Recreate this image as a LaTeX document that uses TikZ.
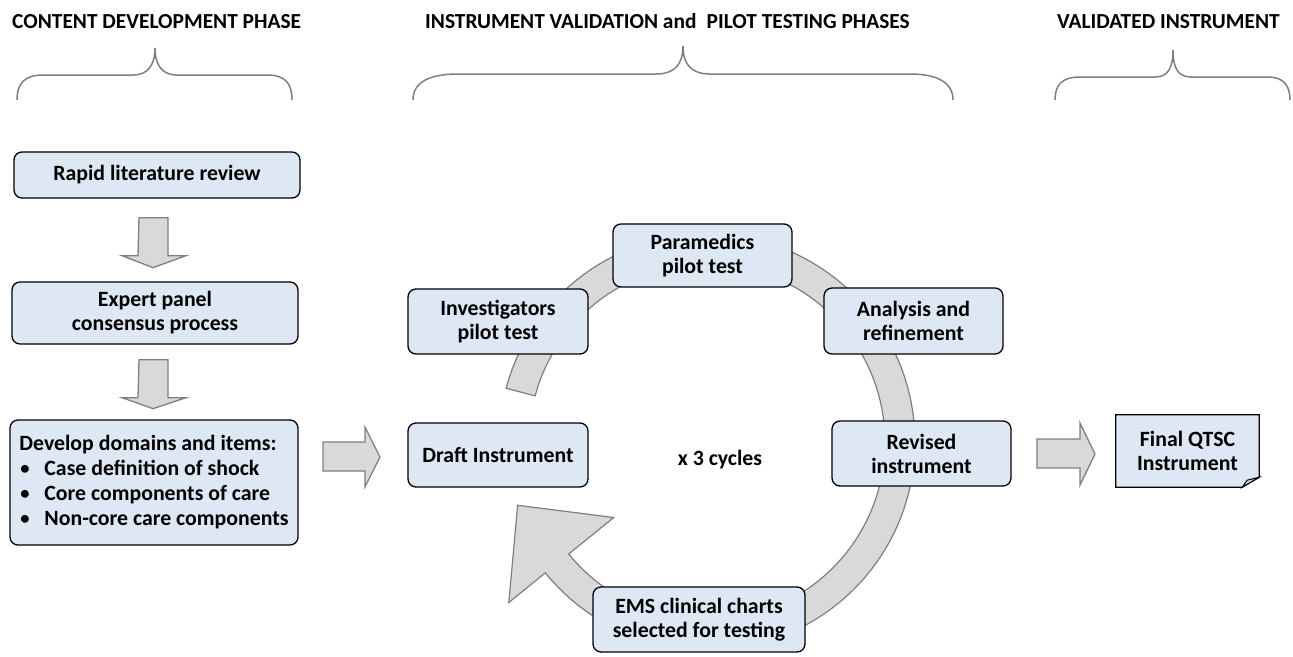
\documentclass[tikz,border=0pt]{standalone}
\usepackage{fontspec}
\setmainfont{Carlito}
\usetikzlibrary{calc}
\definecolor{boxblue}{HTML}{DDE8F4}
\definecolor{ringgray}{HTML}{D9D9D9}
\definecolor{edgegray}{HTML}{7F7F7F}
\newcommand{\mybul}{\makebox[25pt][l]{\hspace{1pt}\raisebox{1pt}{\scalebox{0.85}{\textbullet}}}}
\begin{document}
\begin{tikzpicture}[x=1pt,y=-1pt,
  box/.style={draw=black,line width=1.3pt,fill=boxblue,rounded corners=8pt,inner sep=0pt,
    font=\fontsize{21.8}{24}\selectfont\bfseries,align=center},
  plain/.style={inner sep=0pt,font=\fontsize{21.8}{24}\selectfont\bfseries,align=center},
  title/.style={inner sep=0pt,anchor=base west,font=\fontsize{21.4}{24}\selectfont\bfseries},
  brace/.style={draw=edgegray,line width=1.5pt},
  blockarrow/.style={draw=edgegray,fill=ringgray,line width=1.3pt,line join=miter},
  ring/.style={draw=edgegray,fill=ringgray,line width=1.2pt,line join=miter}]
\useasboundingbox (0,0) rectangle (1293,656);

% titles
\node[title] (t1) at (12,28) {CONTENT DEVELOPMENT PHASE};
\node[title] (t2) at (425,28) {INSTRUMENT VALIDATION and\hspace{0.25em} PILOT TESTING PHASES};
\node[title] (t3) at (1057,28) {VALIDATED INSTRUMENT};

% braces
\draw[brace] (17,100) .. controls (17,83) and (25,75) .. (43,75) -- (133,75)
  .. controls (148,75) and (155,65) .. (155,48)
  .. controls (155,65) and (162,75) .. (177,75) -- (267,75)
  .. controls (285,75) and (292,83) .. (292,100);
\draw[brace] (413,100) .. controls (413,83) and (428,74) .. (458,74) -- (656,74)
  .. controls (675,74) and (683,64) .. (683,46)
  .. controls (683,64) and (691,74) .. (710,74) -- (910,74)
  .. controls (938,74) and (953,83) .. (953,100);
\draw[brace] (1055,100) .. controls (1055,85) and (1062,77) .. (1080,77) -- (1155,77)
  .. controls (1168,77) and (1173,68) .. (1173,50)
  .. controls (1173,68) and (1178,77) .. (1191,77) -- (1268,77)
  .. controls (1283,77) and (1290,85) .. (1290,100);

% ring with arrow head
\coordinate (c) at (707,442);
\draw[ring] plot[domain=-165:141,samples=120] ({707+208*cos(\x)},{442+208*sin(\x)})
  -- ($(c)+(141:255)$) -- ($(c)+(141:187)+(231:70)$) -- ($(c)+(141:120)$)
  -- ($(c)+(141:178)$)
  -- plot[domain=0:306,samples=120] ({707+178*cos(141-\x)},{442+178*sin(141-\x)})
  -- cycle;

% left column
\node[box,minimum width=286pt,minimum height=46pt] (rapid) at (157,175) {Rapid literature review};
\node[box,minimum width=286pt,minimum height=62pt] (expert) at (155,313) {Expert panel\\consensus process};
\node[box,minimum width=288pt,minimum height=125pt,align=left,
  font=\fontsize{21.8}{25}\selectfont\bfseries] (develop) at (154,482.5)
  {Develop domains and items:\\
   \mybul Case definition of shock\\
   \mybul Core components of care\\
   \mybul Non-core care components};

% cycle nodes
\node[box,minimum width=179pt,minimum height=63pt] (param) at (702.5,255.5) {Paramedics\\pilot test};
\node[box,minimum width=180pt,minimum height=65pt] (invest) at (498,321.5) {Investigators\\pilot test};
\node[box,minimum width=179pt,minimum height=66pt] (anal) at (913.5,321) {Analysis and\\refinement};
\node[box,minimum width=179pt,minimum height=65pt] (revised) at (921.5,453.5) {Revised\\instrument};
\node[box,minimum width=180pt,minimum height=64pt] (draft) at (498,455) {Draft Instrument};
\node[box,minimum width=212pt,minimum height=65pt] (ems) at (699,619.5) {EMS clinical charts\\selected for testing};
\node[plain] (cycles) at (720,460) {x 3 cycles};

% final instrument (folded corner)
\node[plain,minimum width=143pt,minimum height=72pt] (final) at (1187.5,451) {Final QTSC\\Instrument};
\draw[draw=black,line width=1.3pt,fill=boxblue,line join=miter]
  (final.north west) -- (final.north east) -- ($(final.south east)+(0,-10)$)
  -- ($(final.south east)+(-17,0)$) -- (final.south west) -- cycle;
\draw[draw=black,line width=1pt,fill=ringgray!60!boxblue]
  ($(final.south east)+(-17,0)$) -- ($(final.south east)+(-12,-7)$) -- ($(final.south east)+(0,-10)$) -- cycle;
\node[plain] at (final.center) {Final QTSC\\Instrument};

% block arrows
\draw[blockarrow] ($(rapid.south)+(-18,19)$) -- ++(29,0) -- ++(0,38) -- ++(18,0) -- ($(rapid.south)+(-4,69)$)
  -- ($(rapid.south)+(-35,57)$) -- ++(16,0) -- cycle;
\draw[blockarrow] ($(expert.south)+(-16,15)$) -- ++(29,0) -- ++(0,38) -- ++(18,0) -- ($(expert.south)+(-2,64)$)
  -- ($(expert.south)+(-33,53)$) -- ++(16,0) -- cycle;
\draw[blockarrow] (323,442) -- (365,442) -- (365,427) -- (380,457) -- (365,487) -- (365,471) -- (323,471) -- cycle;
\draw[blockarrow] (1037,439) -- (1080,439) -- (1080,423) -- (1095,454) -- (1080,485) -- (1080,468) -- (1037,468) -- cycle;
\end{tikzpicture}
\end{document}
